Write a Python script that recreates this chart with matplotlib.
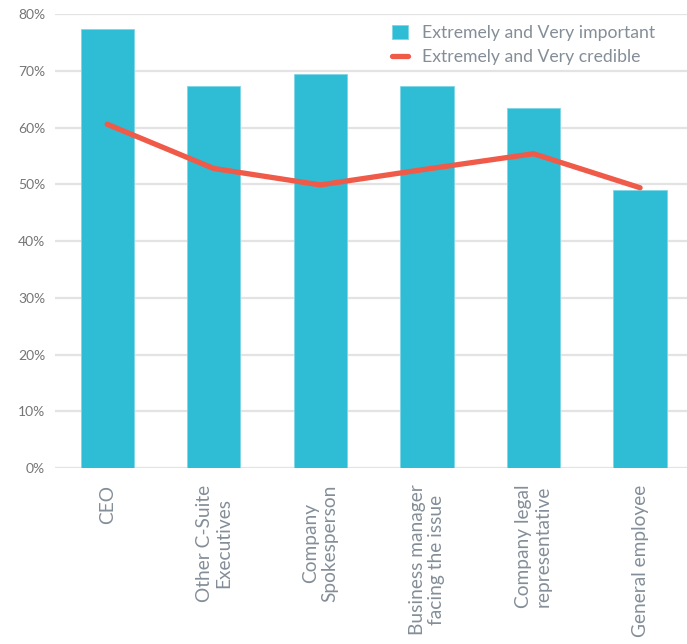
import numpy as np
import matplotlib
matplotlib.use('Agg')
import matplotlib.pyplot as plt

# categories on the x axis
CATEGORIES = ['CEO', 'Other C-Suite\nExecutives', 'Company\nSpokesperson',
              'Business manager\nfacing the issue', 'Company legal\nrepresentative',
              'General employee']

# % saying extremely / very important (bars)
IMPORTANT = [77.4, 67.3, 69.4, 67.3, 63.4, 49.0]

# % saying extremely / very credible (line)
CREDIBLE = [60.6, 52.8, 49.9, 52.7, 55.4, 49.4]

Y_TICKS = [0, 10, 20, 30, 40, 50, 60, 70, 80]

BAR_COLOR = '#2FBCD5'
LINE_COLOR = '#F05A48'
GRID_COLOR = '#E3E3E3'
TEXT_COLOR = '#848E98'

plt.rcParams['font.family'] = ['Lato', 'DejaVu Sans']

fig = plt.figure(figsize=(6.87, 6.44), dpi=100)
ax = fig.add_axes([0.080, 0.2733, 0.92, 0.7047])

x = np.arange(len(CATEGORIES))
bars = ax.bar(x, IMPORTANT, width=0.5, color=BAR_COLOR, edgecolor='#7FD6E6',
              linewidth=0.6, label='Extremely and Very important', zorder=2)
line, = ax.plot(x, CREDIBLE, color=LINE_COLOR, linewidth=3.8, solid_capstyle='round',
                label='Extremely and Very credible', zorder=3)

ax.set_ylim(0, 80)
ax.set_xlim(-0.49, 5.44)
ax.set_yticks(Y_TICKS)
ax.set_yticklabels(['%d%%' % v for v in Y_TICKS], color='#757575', fontsize=10)
ax.set_xticks(x)
ax.set_xticklabels(CATEGORIES, rotation=90, fontsize=13.8, color=TEXT_COLOR,
                   ha='center', va='top', multialignment='center',
                   linespacing=1.15)
ax.tick_params(axis='both', length=0)
ax.tick_params(axis='x', pad=12)
ax.tick_params(axis='y', pad=7)

ax.yaxis.grid(True, color=GRID_COLOR, linewidth=1.6, zorder=0)
ax.set_axisbelow(True)
for s in ax.spines.values():
    s.set_visible(False)

leg = ax.legend([bars, line], ['Extremely and Very important', 'Extremely and Very credible'],
                loc='upper right', bbox_to_anchor=(0.975, 1.012), frameon=False,
                fontsize=12.7, handlelength=0.9, handleheight=0.9, handletextpad=0.8,
                labelspacing=0.45)
for t in leg.get_texts():
    t.set_color(TEXT_COLOR)

fig.savefig('out.png', dpi=100)
